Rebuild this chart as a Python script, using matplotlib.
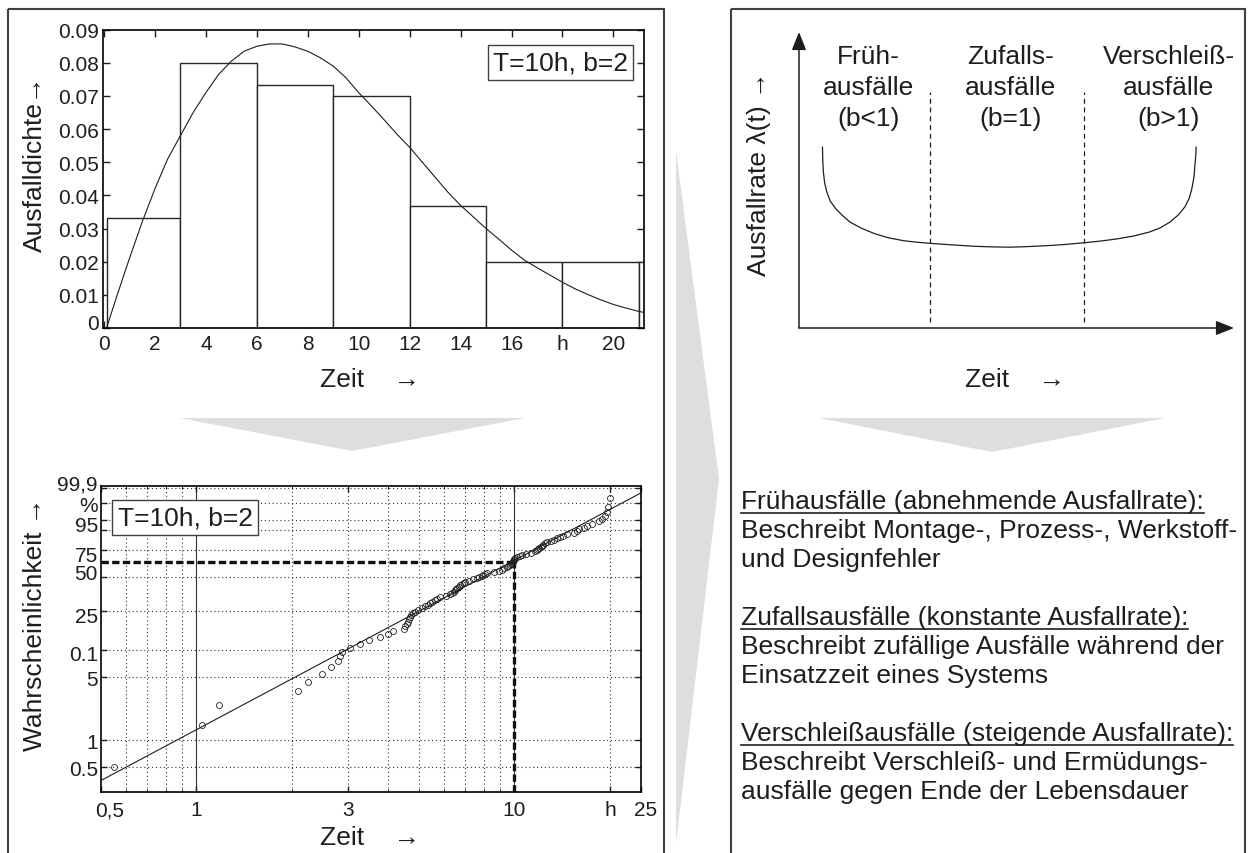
import numpy as np
import matplotlib.pyplot as plt
from matplotlib.patches import Polygon, Rectangle
from matplotlib.transforms import ScaledTranslation

plt.rcParams['font.family'] = ['Liberation Sans', 'DejaVu Sans']
plt.rcParams['axes.linewidth'] = 1.2

W, H = 1248, 854
INK = '#1e1e1e'
GREY = '#dedede'
LAB = 19
TICK = 15

## top left: histogram of failure times + density curve
bin_edges = [0.13, 3, 6, 9, 12, 15, 18, 21, 21.6]
bin_dens = [0.0333, 0.080, 0.0733, 0.070, 0.0367, 0.020, 0.020, 0.020]
dens_t = [0.1, 0.5, 1.0, 1.5, 2.0, 2.5, 3.0, 3.5, 4.0, 4.5, 5.0, 5.5, 6.0, 6.5,
          7.0, 7.5, 8.0, 8.5, 9.0, 9.5, 10.0, 10.5, 11.0, 11.5, 12.0, 12.5,
          13.0, 13.5, 14.0, 14.5, 15.0, 15.5, 16.0, 16.5, 17.0, 17.5, 18.0,
          18.5, 19.0, 19.5, 20.0, 20.5, 21.0, 21.2]
dens_f = [0.0, 0.0095, 0.021, 0.032, 0.042, 0.051, 0.058, 0.065, 0.071, 0.0765,
          0.0805, 0.0835, 0.085, 0.0857, 0.0857, 0.0848, 0.0835, 0.0815, 0.079,
          0.0755, 0.071, 0.067, 0.0628, 0.0585, 0.0545, 0.050, 0.0455, 0.041,
          0.037, 0.0335, 0.030, 0.0268, 0.0235, 0.0205, 0.0182, 0.016, 0.0138,
          0.0118, 0.0101, 0.0085, 0.0071, 0.006, 0.005, 0.0047]
hist_xticks = [0, 2, 4, 6, 8, 10, 12, 14, 16, 18, 20]
hist_xlabels = ['0', '2', '4', '6', '8', '10', '12', '14', '16', 'h', '20']
hist_yticks = [0, 0.01, 0.02, 0.03, 0.04, 0.05, 0.06, 0.07, 0.08, 0.09]
hist_ylabels = ['0', '0.01', '0.02', '0.03', '0.04', '0.05', '0.06', '0.07',
                '0.08', '0.09']

## bottom left: Weibull probability paper
fail_t = [0.55, 1.04, 1.18, 2.09, 2.25, 2.49, 2.64, 2.79, 2.82, 2.87,
          3.05, 3.27, 3.49, 3.77, 4.01, 4.16, 4.50, 4.54, 4.58, 4.62,
          4.66, 4.70, 4.74, 4.79, 4.85, 4.98, 5.12, 5.25, 5.35, 5.43,
          5.52, 5.62, 5.72, 5.85, 6.08, 6.25, 6.35, 6.44, 6.50, 6.56,
          6.62, 6.69, 6.75, 6.84, 6.93, 7.00, 7.20, 7.40, 7.60, 7.75,
          7.88, 7.98, 8.08, 8.18, 8.60, 8.92, 9.15, 9.30, 9.45, 9.55,
          9.65, 9.72, 9.80, 9.86, 9.92, 9.97, 10.00, 10.03, 10.2, 10.4,
          10.6, 10.9, 11.3, 11.6, 11.75, 11.85, 11.95, 12.1, 12.2, 12.3,
          12.5, 12.7, 13.0, 13.3, 13.6, 13.9, 14.2, 14.6, 15.4, 15.7,
          16.0, 16.5, 16.9, 17.5, 18.4, 18.8, 19.2, 19.5, 19.7, 20.0]
fail_F = [0.5, 1.5, 2.5, 3.5, 4.5, 5.5, 6.5, 7.5, 8.5, 9.5,
          10.5, 11.5, 12.5, 13.5, 14.5, 15.5, 16.5, 17.5, 18.5, 19.5,
          20.5, 21.5, 22.5, 23.5, 24.5, 25.5, 26.5, 27.5, 28.5, 29.5,
          30.5, 31.5, 32.5, 33.5, 34.5, 35.5, 36.5, 37.5, 38.5, 39.5,
          40.5, 41.5, 42.5, 43.5, 44.5, 45.5, 46.5, 47.5, 48.5, 49.5,
          50.5, 51.5, 52.5, 53.5, 54.5, 55.5, 56.5, 57.5, 58.5, 59.5,
          60.5, 61.5, 62.5, 63.5, 64.5, 65.5, 66.5, 67.5, 68.5, 69.5,
          70.5, 71.5, 72.5, 73.5, 74.5, 75.5, 76.5, 77.5, 78.5, 79.5,
          80.5, 81.5, 82.5, 83.5, 84.5, 85.5, 86.5, 87.5, 88.5, 89.5,
          90.5, 91.5, 92.5, 93.5, 94.5, 95.5, 96.5, 97.5, 98.5, 99.5]
fit_t = [0.5, 25]
fit_F = [0.355, 99.76]
T_char = 10
F_char = 63.2
prob_xticks = [0.5, 1, 3, 10, 20, 25]
prob_xlabels = ['0,5', '1', '3', '10', 'h', '25']
prob_yticks = [0.5, 1, 5, 10, 25, 50, 75, 90, 95, 99, 99.9]
prob_ylabels = ['0.5', '1', '5', '0.1', '25', '50', '75', '', '95', '%', '99,9']
xgrid_major = [1, 10]
xgrid_minor = [0.6, 0.7, 0.8, 0.9, 2, 3, 4, 5, 6, 7, 8, 9, 20]

## right: bathtub curve (arbitrary units)
tub_t = [0.54, 0.545, 0.56, 0.59, 0.64, 0.72, 0.85, 1.0, 1.17, 1.45, 1.75,
         2.05, 2.40, 2.70, 3.01, 3.5, 4.04, 4.45, 4.85, 5.25, 5.68, 6.1, 6.55,
         6.95, 7.31, 7.7, 8.05, 8.3, 8.53, 8.72, 8.87, 8.97, 9.03, 9.08, 9.10,
         9.12, 9.13]
tub_rate = [6.11, 5.7, 5.27, 4.9, 4.59, 4.28, 4.02, 3.80, 3.58, 3.36, 3.18,
            3.05, 2.95, 2.90, 2.86, 2.81, 2.76, 2.74, 2.73, 2.75, 2.78, 2.82,
            2.88, 2.94, 3.01, 3.11, 3.24, 3.38, 3.58, 3.82, 4.09, 4.38, 4.70,
            5.1, 5.48, 5.8, 6.11]
phase_bounds = [3.01, 6.55]
phase_labels = ['Früh-\nausfälle\n(b<1)', 'Zufalls-\nausfälle\n(b=1)',
                'Verschleiß-\nausfälle\n(b>1)']

text_lines = [
    ('Frühausfälle (abnehmende Ausfallrate):', True),
    ('Beschreibt Montage-, Prozess-, Werkstoff-', False),
    ('und Designfehler', False),
    ('Zufallsausfälle (konstante Ausfallrate):', True),
    ('Beschreibt zufällige Ausfälle während der', False),
    ('Einsatzzeit eines Systems', False),
    ('Verschleißausfälle (steigende Ausfallrate):', True),
    ('Beschreibt Verschleiß- und Ermüdungs-', False),
    ('ausfälle gegen Ende der Lebensdauer', False),
]
text_y = [502, 531, 560, 618, 647, 676, 734, 763, 792]


def box(x0, y0, x1, y1):
    return [x0 / W, 1 - y1 / H, (x1 - x0) / W, (y1 - y0) / H]


fig = plt.figure(figsize=(W / 100, H / 100), dpi=100)


def nudge(lbl, dx, dy):
    # shift a tick label by a few pixels
    lbl.set_transform(lbl.get_transform() +
                      ScaledTranslation(dx / 100, dy / 100, fig.dpi_scale_trans))


## background: panel frames, grey arrows, free text (pixel coords)
bg = fig.add_axes([0, 0, 1, 1])
bg.set_xlim(0, W)
bg.set_ylim(H, 0)
bg.axis('off')
bg.add_patch(Rectangle((8, 10), 656, 860, fill=False, ec='#404040', lw=1.5))
bg.add_patch(Rectangle((731, 10), 514, 860, fill=False, ec='#404040', lw=1.5))
bg.add_patch(Polygon([(180, 419), (525, 419), (352, 452)], fc=GREY, ec='none'))
bg.add_patch(Polygon([(819, 419), (1165, 419), (992, 453)], fc=GREY, ec='none'))
bg.add_patch(Polygon([(676, 152), (719, 480), (676, 845)], fc=GREY, ec='none'))

bg.text(35, 164, 'Ausfalldichte→', rotation=90, ha='center', va='center',
        fontsize=LAB, color=INK)
bg.text(370, 380, 'Zeit    →', ha='center', va='center', fontsize=LAB, color=INK)
bg.text(35, 624, 'Wahrscheinlichkeit →', rotation=90, ha='center', va='center',
        fontsize=LAB, color=INK)
bg.text(370, 838, 'Zeit    →', ha='center', va='center', fontsize=LAB, color=INK)
bg.text(759, 174, 'Ausfallrate λ(t) →', rotation=90, ha='center', va='center',
        fontsize=LAB, color=INK)
bg.text(1015, 380, 'Zeit    →', ha='center', va='center', fontsize=LAB, color=INK)

txt_objs = []
for (s, under), y in zip(text_lines, text_y):
    t = bg.text(741, y, s, ha='left', va='center', fontsize=LAB, color=INK)
    txt_objs.append((t, under, y))

## top left histogram
ax1 = fig.add_axes(box(102.7, 30.7, 644, 329))
ax1.bar(bin_edges[:-1], bin_dens, width=np.diff(bin_edges), align='edge',
        fc='white', ec='#262626', lw=1.0, zorder=2)
ax1.plot(dens_t, dens_f, color=INK, lw=0.8, zorder=3)
ax1.set_xlim(-0.05, 21.2)
ax1.set_ylim(0, 0.09)
ax1.set_xticks(hist_xticks)
ax1.set_xticklabels(hist_xlabels)
ax1.set_yticks(hist_yticks)
ax1.set_yticklabels(hist_ylabels)
ax1.tick_params(direction='in', top=True, right=True, length=5, width=1,
                labelsize=TICK, colors=INK, pad=4)
ax1.tick_params(axis='y', pad=3)
nudge(ax1.get_yticklabels()[0], 0, 6)
ax1.text(0.846, 0.89, 'T=10h, b=2', transform=ax1.transAxes, ha='center',
         va='center', fontsize=LAB, color=INK, zorder=5,
         bbox=dict(boxstyle='square,pad=0.2', fc='white', ec='#404040', lw=1))


## bottom left Weibull plot
def wb_fwd(p):
    p = np.clip(np.asarray(p, dtype=float) / 100.0, 1e-6, 1 - 1e-9)
    return np.log(-np.log(1 - p))


def wb_inv(w):
    return 100.0 * (1 - np.exp(-np.exp(w)))


ax2 = fig.add_axes(box(100.7, 486.7, 641, 793))
ax2.set_xscale('log')
ax2.set_yscale('function', functions=(wb_fwd, wb_inv))
P_LO, P_HI = 0.265, 99.93
ax2.set_xlim(0.5, 25)
ax2.set_ylim(P_LO, P_HI)
for p in prob_yticks:
    ax2.axhline(p, color='#333333', lw=0.8, ls=(0, (1, 2.5)), zorder=1)
for x in xgrid_minor:
    ax2.axvline(x, color='#333333', lw=0.8, ls=(0, (1, 2.5)), zorder=1)
for x in xgrid_major:
    ax2.axvline(x, color='#333333', lw=0.8, zorder=1)
ax2.plot([0.5, T_char], [F_char, F_char], color='#111111', lw=2.4,
         dashes=(2.2, 1.0), zorder=2)
ax2.plot([T_char, T_char], [P_LO, F_char], color='#111111', lw=2.4,
         dashes=(2.2, 1.0), zorder=2)
ax2.plot(fit_t, fit_F, color=INK, lw=0.8, zorder=3)
ax2.plot(fail_t, fail_F, 'o', mfc='none', mec='#222222', ms=4.3, mew=0.6,
         zorder=4)
ax2.set_xticks(prob_xticks)
ax2.set_xticklabels(prob_xlabels)
ax2.set_xticks(xgrid_minor, minor=True)
ax2.set_xticklabels([], minor=True)
ax2.set_yticks(prob_yticks)
ax2.set_yticklabels(prob_ylabels)
ax2.yaxis.set_minor_locator(plt.NullLocator())
ax2.tick_params(direction='in', top=True, right=True, length=4, width=1,
                labelsize=TICK, colors=INK)
ax2.tick_params(axis='x', which='major', pad=6)
ax2.tick_params(axis='x', which='minor', direction='in', top=True, length=2.5)
ax2.tick_params(axis='y', pad=2)
ylbls = ax2.get_yticklabels()
for i, dy in [(10, 6), (8, -4), (6, -4), (5, 5), (4, -4), (3, -3)]:
    nudge(ylbls[i], 0, dy)
xlbls = ax2.get_xticklabels()
nudge(xlbls[0], 9, 0)
nudge(xlbls[5], 5, 0)
ax2.text(0.1565, 0.897, 'T=10h, b=2', transform=ax2.transAxes, ha='center',
         va='center', fontsize=LAB, color=INK, zorder=5,
         bbox=dict(boxstyle='square,pad=0.2', fc='white', ec='#404040', lw=1))

## right bathtub chart
ax3 = fig.add_axes(box(799, 33, 1234, 329))
ax3.set_xlim(0, 10)
ax3.set_ylim(0, 10)
ax3.axis('off')
arrow = dict(arrowstyle='-|>,head_length=0.55,head_width=0.22', color=INK,
             lw=1.1, shrinkA=0, shrinkB=0, mutation_scale=20)
ax3.annotate('', xy=(10, 0), xytext=(0, 0), arrowprops=arrow,
             annotation_clip=False)
ax3.annotate('', xy=(0, 10), xytext=(0, 0), arrowprops=arrow,
             annotation_clip=False)
ax3.plot(tub_t, tub_rate, color=INK, lw=0.9)
for xb in phase_bounds:
    ax3.plot([xb, xb], [0.2, 7.97], color=INK, lw=0.9, ls=(0, (4, 3)))
for lbl, xc in zip(phase_labels, [1.59, 4.87, 8.5]):
    ax3.text(xc, 8.14, lbl, ha='center', va='center', fontsize=LAB,
             color=INK, linespacing=1.35, multialignment='center')

## underline the headings
fig.canvas.draw()
r = fig.canvas.get_renderer()
for t, under, y in txt_objs:
    if under:
        bb = t.get_window_extent(r)
        bg.plot([bb.x0, bb.x1], [y + 12, y + 12], color=INK, lw=1.2)

fig.savefig('out.png', dpi=100)
